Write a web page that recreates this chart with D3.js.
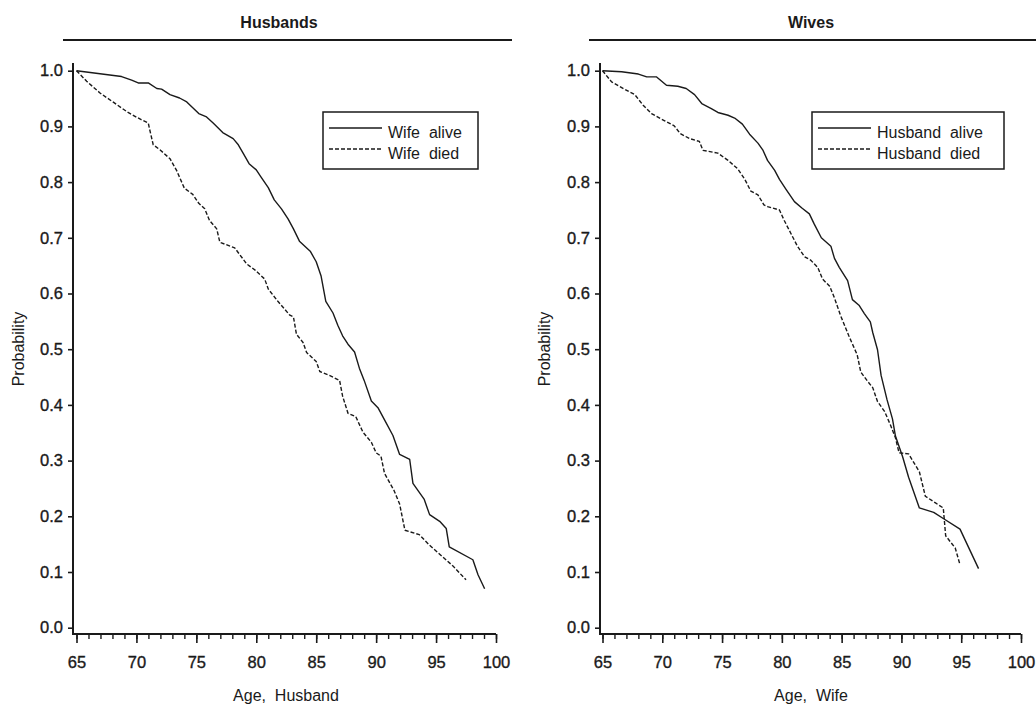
<!DOCTYPE html>
<html>
<head>
<meta charset="utf-8">
<script src="https://cdn.jsdelivr.net/npm/d3@7"></script>
<style>
  body { margin: 0; background: #fff; }
  svg { display: block; }
  text { font-family: "Liberation Sans", Arial, Helvetica, sans-serif; fill: #1a1a1a; white-space: pre; }
  .heavy { stroke: #1a1a1a; stroke-width: 0.35px; }
</style>
</head>
<body>
<script>
// Husbands panel: survival by wife's status
const husbWifeAliveAge  = [65, 68.76, 69.6, 70.15, 70.99, 71.7, 72.1, 72.8, 73.6, 74.2, 75.2, 75.85, 76.4, 77.2, 78.07, 78.5, 78.9, 79.4, 80.0, 80.4, 81.0, 81.5, 82.1, 82.65, 83.1, 83.6, 84.5, 85.0, 85.4, 85.8, 86.4, 86.8, 87.2, 87.65, 88.2, 88.6, 89.0, 89.6, 90.15, 90.7, 91.4, 91.96, 92.8, 93.07, 94.0, 94.46, 95.3, 95.85, 96.1, 98.07, 98.5, 99.05];
const husbWifeAliveProb = [1.0, 0.9895, 0.983, 0.978, 0.978, 0.968, 0.967, 0.957, 0.951, 0.944, 0.923, 0.917, 0.906, 0.889, 0.878, 0.867, 0.852, 0.833, 0.822, 0.809, 0.79, 0.768, 0.752, 0.734, 0.716, 0.694, 0.676, 0.657, 0.632, 0.586, 0.565, 0.543, 0.524, 0.509, 0.495, 0.466, 0.444, 0.407, 0.395, 0.373, 0.345, 0.311, 0.302, 0.259, 0.231, 0.203, 0.191, 0.178, 0.145, 0.122, 0.095, 0.070];
const husbWifeDiedAge   = [65, 65.85, 66.96, 68.1, 69.3, 70.4, 70.99, 71.1, 71.4, 71.96, 72.8, 73.35, 74.0, 74.7, 75.2, 75.7, 76.1, 76.7, 76.96, 78.2, 79.2, 79.9, 80.7, 81.0, 81.8, 82.8, 83.1, 83.35, 83.9, 84.2, 85.0, 85.3, 86.1, 86.95, 87.2, 87.65, 88.3, 88.9, 89.6, 90.0, 90.4, 90.7, 91.5, 91.96, 92.4, 93.6, 94.46, 95.3, 96.4, 97.5];
const husbWifeDiedProb  = [1.0, 0.981, 0.96, 0.943, 0.925, 0.912, 0.906, 0.895, 0.867, 0.858, 0.842, 0.821, 0.789, 0.778, 0.762, 0.752, 0.731, 0.716, 0.692, 0.682, 0.653, 0.642, 0.626, 0.608, 0.586, 0.561, 0.558, 0.527, 0.512, 0.494, 0.478, 0.46, 0.453, 0.444, 0.416, 0.385, 0.379, 0.351, 0.333, 0.314, 0.308, 0.277, 0.246, 0.222, 0.175, 0.167, 0.148, 0.132, 0.111, 0.086];

// Wives panel: survival by husband's status
const wifeHusbAliveAge  = [65, 66.6, 68.0, 68.7, 69.5, 70.35, 71.3, 72.0, 72.7, 73.3, 74.1, 74.65, 75.5, 76.05, 76.7, 77.3, 78.0, 78.4, 78.8, 79.4, 79.8, 80.35, 81.05, 81.7, 82.3, 82.7, 83.3, 84.1, 84.4, 84.8, 85.5, 85.9, 86.45, 86.9, 87.4, 87.6, 88.0, 88.3, 88.8, 89.25, 89.5, 90.1, 90.6, 91.5, 92.7, 93.5, 94.9, 96.45];
const wifeHusbAliveProb = [1.0, 0.998, 0.994, 0.989, 0.989, 0.974, 0.972, 0.968, 0.957, 0.941, 0.932, 0.925, 0.92, 0.915, 0.904, 0.886, 0.87, 0.858, 0.839, 0.821, 0.805, 0.787, 0.765, 0.753, 0.743, 0.725, 0.7, 0.685, 0.663, 0.647, 0.623, 0.589, 0.579, 0.564, 0.549, 0.53, 0.499, 0.453, 0.409, 0.375, 0.344, 0.307, 0.27, 0.215, 0.207, 0.196, 0.177, 0.106];
const wifeHusbDiedAge   = [65, 65.76, 66.9, 67.7, 68.4, 69.1, 70.2, 71.0, 71.5, 72.3, 73.1, 73.4, 74.65, 75.5, 76.3, 76.9, 77.4, 78.0, 78.5, 78.8, 79.8, 80.2, 80.8, 81.3, 81.9, 82.4, 83.0, 83.4, 84.0, 84.4, 84.9, 85.6, 86.3, 86.6, 87.15, 87.6, 88.0, 88.6, 89.1, 89.5, 89.8, 90.6, 91.5, 92.0, 92.85, 93.5, 93.7, 94.5, 94.9];
const wifeHusbDiedProb  = [1.0, 0.98, 0.966, 0.957, 0.938, 0.923, 0.91, 0.901, 0.887, 0.878, 0.873, 0.857, 0.852, 0.839, 0.824, 0.805, 0.784, 0.777, 0.759, 0.756, 0.75, 0.731, 0.706, 0.685, 0.666, 0.66, 0.647, 0.626, 0.613, 0.592, 0.561, 0.524, 0.49, 0.459, 0.443, 0.431, 0.406, 0.388, 0.363, 0.341, 0.314, 0.312, 0.28, 0.236, 0.224, 0.215, 0.165, 0.143, 0.113];

const panelTitles  = ["Husbands", "Wives"];
const xAxisTitles  = ["Age,  Husband", "Age,  Wife"];
const legendLabels = [["Wife  alive", "Wife  died"], ["Husband  alive", "Husband  died"]];
const yTicks       = d3.range(0, 11).map(d => d / 10);
const xMajorTicks  = d3.range(65, 101, 5);
const xMinorTicks  = d3.range(65, 101, 1);

const width = 1036, height = 705;
const ink = "#1a1a1a";
const dashed = "4,2";

const svg = d3.select("body").append("svg")
    .attr("width", width)
    .attr("height", height);

// layout of the two panels
const layout = [
    {axisX: 73, xRange: [76.5, 496], rule: [63, 512], titleX: 279, xTitleX: 286, yTitleX: 24,
     legend: {x: 323, w: 155}},
    {axisX: 600, xRange: [602.5, 1021], rule: [589, 1037], titleX: 811, xTitleX: 811, yTitleX: 550,
     legend: {x: 812, w: 192}}
];

const series = [
    [
        {age: husbWifeAliveAge, prob: husbWifeAliveProb, dash: null},
        {age: husbWifeDiedAge, prob: husbWifeDiedProb, dash: dashed}
    ],
    [
        {age: wifeHusbAliveAge, prob: wifeHusbAliveProb, dash: null},
        {age: wifeHusbDiedAge, prob: wifeHusbDiedProb, dash: dashed}
    ]
];

const y = d3.scaleLinear().domain([0, 1]).range([627.7, 70.7]);
const axisTop = 63, axisBottom = 634;

function drawPanel(i) {
    const L = layout[i];
    const x = d3.scaleLinear().domain([65, 100]).range(L.xRange);
    const g = svg.append("g").attr("class", `panel-${i}`);

    // title and rule underneath
    g.append("text")
        .attr("x", L.titleX).attr("y", 28)
        .attr("text-anchor", "middle")
        .attr("font-size", 16).attr("font-weight", "bold")
        .text(panelTitles[i]);
    g.append("line")
        .attr("x1", L.rule[0]).attr("x2", L.rule[1])
        .attr("y1", 40).attr("y2", 40)
        .attr("stroke", ink).attr("stroke-width", 2);

    // y axis
    const yAxis = d3.axisLeft(y)
        .tickValues(yTicks)
        .tickFormat(d3.format(".1f"))
        .tickSize(5).tickPadding(5);
    const gy = g.append("g")
        .attr("transform", `translate(${L.axisX},0)`)
        .call(yAxis);
    gy.select(".domain").remove();
    gy.selectAll(".tick line").attr("stroke", ink).attr("stroke-width", 1.6);
    gy.selectAll(".tick text")
        .attr("class", "heavy")
        .attr("font-size", 16.5).attr("fill", ink)
        .attr("font-family", "Liberation Sans, Arial, sans-serif");

    // x axis: minor then major ticks
    const gxMinor = g.append("g")
        .attr("transform", `translate(0,${axisBottom})`)
        .call(d3.axisBottom(x).tickValues(xMinorTicks).tickSize(5).tickFormat(""));
    gxMinor.select(".domain").remove();
    gxMinor.selectAll(".tick line").attr("stroke", ink).attr("stroke-width", 1.4);

    const gx = g.append("g")
        .attr("transform", `translate(0,${axisBottom})`)
        .call(d3.axisBottom(x).tickValues(xMajorTicks).tickSize(9).tickPadding(13).tickFormat(d3.format("d")));
    gx.select(".domain").remove();
    gx.selectAll(".tick line").attr("stroke", ink).attr("stroke-width", 1.6);
    gx.selectAll(".tick text")
        .attr("class", "heavy")
        .attr("font-size", 16.5).attr("fill", ink)
        .attr("font-family", "Liberation Sans, Arial, sans-serif");

    // axis frame (L shape)
    g.append("path")
        .attr("d", `M${L.axisX},${axisTop}V${axisBottom}H${L.xRange[1]}`)
        .attr("fill", "none").attr("stroke", ink).attr("stroke-width", 2);

    // axis titles
    g.append("text")
        .attr("x", L.xTitleX).attr("y", 701)
        .attr("text-anchor", "middle")
        .attr("font-size", 16)
        .text(xAxisTitles[i]);
    g.append("text")
        .attr("transform", `translate(${L.yTitleX},349) rotate(-90)`)
        .attr("text-anchor", "middle")
        .attr("font-size", 16)
        .text("Probability");

    // curves
    const line = d3.line()
        .x(d => x(d[0]))
        .y(d => y(d[1]));
    series[i].forEach(s => {
        g.append("path")
            .datum(d3.zip(s.age, s.prob))
            .attr("d", line)
            .attr("fill", "none")
            .attr("stroke", ink)
            .attr("stroke-width", 1.4)
            .attr("stroke-linejoin", "round")
            .attr("stroke-dasharray", s.dash);
    });

    // legend
    const lg = g.append("g").attr("transform", `translate(${L.legend.x},112)`);
    lg.append("rect")
        .attr("width", L.legend.w).attr("height", 57)
        .attr("fill", "#fff").attr("stroke", ink).attr("stroke-width", 1.5);
    legendLabels[i].forEach((label, k) => {
        const ly = 16 + k * 21;
        lg.append("line")
            .attr("x1", 6).attr("x2", 59)
            .attr("y1", ly).attr("y2", ly)
            .attr("stroke", ink).attr("stroke-width", 1.4)
            .attr("stroke-dasharray", series[i][k].dash);
        lg.append("text")
            .attr("x", 65).attr("y", ly + 10)
            .attr("font-size", 16)
            .text(label);
    });
}

drawPanel(0);
drawPanel(1);
</script>
</body>
</html>
